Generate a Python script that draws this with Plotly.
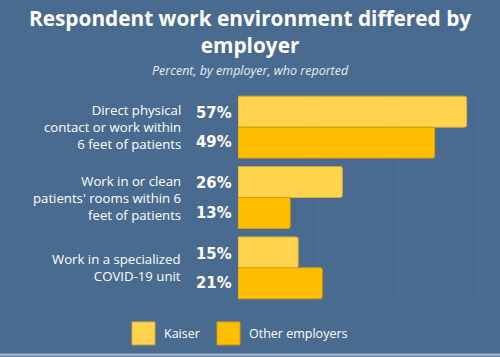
import plotly.graph_objects as go

categories = ["Direct physical<br>contact or work within<br>6 feet of patients",
              "Work in or clean<br>patients' rooms within 6<br>feet of patients",
              "Work in a specialized<br>COVID-19 unit"]
cat_keys = ["c1", "c2", "c3"]
kaiser = [57, 26, 15]
other = [49, 13, 21]
series_names = ["Kaiser", "Other employers"]
colors = ["#FFD34E", "#FFBF00"]
outline = ["#D9A93A", "#D99E00"]

BG = "#4A6B90"
PT, PH = 303.5, 211.5  # plot bottom pixel, plot height


def py(pix):
    return (PT - pix) / PH


def px(pix):
    return (pix - 238) / 262


fig = go.Figure()
for name, vals, col, oc in zip(series_names, [kaiser, other], colors, outline):
    fig.add_trace(go.Bar(
        y=cat_keys, x=vals, name=name, orientation="h",
        marker=dict(color=col, line=dict(color=oc, width=1), cornerradius=2),
        showlegend=False, hoverinfo="x+name",
    ))

annotations = []
for key, lab in zip(cat_keys, categories):
    annotations.append(dict(
        x=0, xref="x", y=key, yref="y", text=lab, showarrow=False,
        xanchor="right", align="right", xshift=-55,
        font=dict(family="Open Sans, sans-serif", size=13.2, color="white"),
    ))
offsets = [-0.21, 0.21]
for si, vals in enumerate([kaiser, other]):
    for ci, v in enumerate(vals):
        annotations.append(dict(
            x=0, xref="x", y=ci + offsets[si], yref="y", text=f"<b>{v}%</b>", showarrow=False,
            xanchor="left", xshift=-44,
            font=dict(family="DejaVu Sans Condensed, sans-serif",
                      size=16.5, color="white"),
        ))
annotations.append(dict(
    x=px(250), xref="paper", y=py(31), yref="paper", yanchor="middle",
    text="<b>Respondent work environment differed by<br>employer</b>", showarrow=False,
    font=dict(family="Open Sans, sans-serif", size=20.8, color="white"),
    xanchor="center", align="center",
))
annotations.append(dict(
    x=px(250), xref="paper", y=py(70), yref="paper", yanchor="middle",
    xanchor="center",
    text="<i>Percent, by employer, who reported</i>", showarrow=False,
    font=dict(family="Open Sans, sans-serif", size=12.5, color="#E8EDF4"),
))
shapes = []
leg_x = [132, 217]
for i, (name, col, oc) in enumerate(zip(series_names, colors, outline)):
    shapes.append(dict(type="rect", xref="paper", yref="paper",
                       x0=px(leg_x[i]), x1=px(leg_x[i] + 23),
                       y0=py(345.5), y1=py(322.5),
                       fillcolor=col, line=dict(color=oc, width=1)))
    annotations.append(dict(
        xref="paper", yref="paper", x=px(leg_x[i] + 30), y=py(334), yanchor="middle",
        text=name, showarrow=False, xanchor="left",
        font=dict(family="Open Sans, sans-serif", size=12.5, color="white"),
    ))
shapes.append(dict(type="rect", xref="paper", yref="paper",
                   x0=px(0), x1=px(500), y0=py(357), y1=py(354),
                   fillcolor="#9FB0C8", line=dict(width=0), layer="above"))

fig.update_layout(
    width=500, height=357,
    margin=dict(l=238, r=0, t=92, b=53.5),
    paper_bgcolor=BG, plot_bgcolor=BG,
    barmode="group", bargap=0.12, bargroupgap=0.0,
    xaxis=dict(range=[0, 65.3], tickvals=[20, 40, 60], showticklabels=False,
               showgrid=True, gridcolor="#5A6A9C", gridwidth=1, zeroline=False,
               showline=False, fixedrange=True),
    yaxis=dict(categoryorder="array", categoryarray=cat_keys, autorange="reversed",
               showticklabels=False, showgrid=False, zeroline=False, showline=False,
               fixedrange=True),
    annotations=annotations, shapes=shapes, showlegend=False,
)

fig.write_html("out.html", config={"displayModeBar": False},
               post_script="document.body.style.margin='0';")
